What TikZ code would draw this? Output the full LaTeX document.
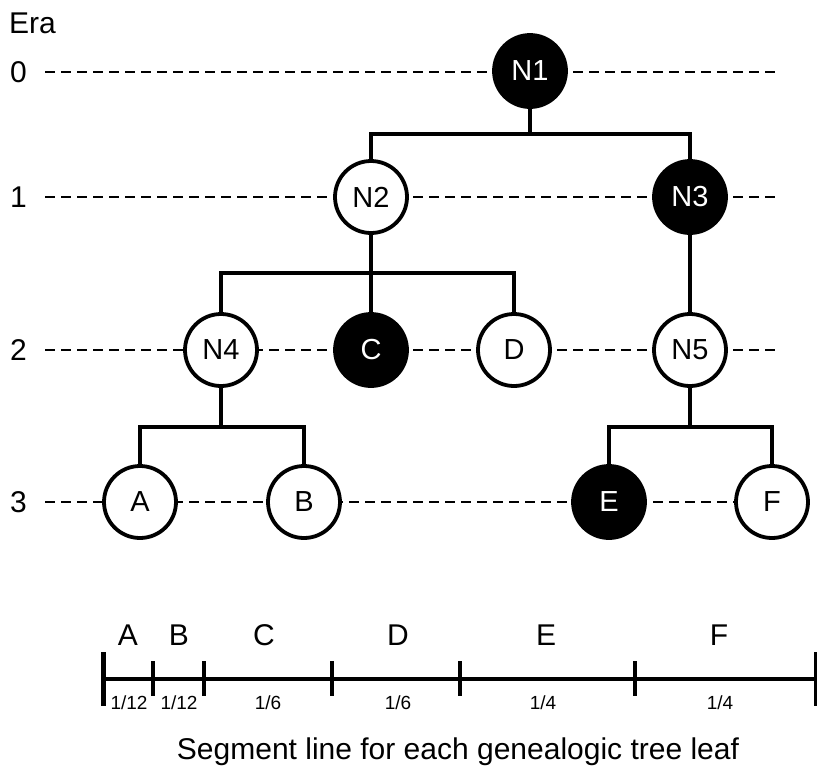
\documentclass[tikz,border=0pt]{standalone}
\usepackage{fontspec}
\setmainfont{Liberation Sans}
\begin{document}
\begin{tikzpicture}[x=1pt,y=-1pt,
  tnode/.style={circle,draw=black,line width=3.8pt,minimum size=72pt,inner sep=0pt,fill=white,font=\fontsize{29}{33}\selectfont},
  bnode/.style={tnode,fill=black,text=white},
  edge/.style={line width=3.8pt},
  eraline/.style={dashed,dash pattern=on 10pt off 6pt,line width=1.3pt},
  eralabel/.style={font=\fontsize{30}{34}\selectfont,anchor=west,inner sep=0pt},
  seg/.style={line width=3.4pt},
  tick/.style={line width=3.8pt},
  seglabel/.style={font=\fontsize{30}{34}\selectfont,inner sep=0pt},
  fraclabel/.style={font=\fontsize{19}{22}\selectfont,inner sep=0pt}]
\useasboundingbox (0,0) rectangle (817,772);
% era labels
\node[eralabel] (era) at (9,23) {Era};
\node[eralabel] (e0) at (10,72) {0};
\node[eralabel] (e1) at (10,197) {1};
\node[eralabel] (e2) at (10,350) {2};
\node[eralabel] (e3) at (10,502) {3};
% dashed era lines
\foreach \y/\n in {72/0,197/1,350/2,502/3}{
  \coordinate (l\n) at (45,\y);
  \coordinate (r\n) at (775,\y);
  \draw[eraline] (l\n) -- (r\n);
}
% nodes
\node[bnode] (N1) at (530,71) {N1};
\node[tnode] (N2) at (371,197) {N2};
\node[bnode] (N3) at (690,197) {N3};
\node[tnode] (N4) at (221,350) {N4};
\node[bnode] (C) at (371,350) {C};
\node[tnode] (D) at (514,350) {D};
\node[tnode] (N5) at (690,350) {N5};
\node[tnode] (A) at (140,502) {A};
\node[tnode] (B) at (304,502) {B};
\node[bnode] (E) at (609,502) {E};
\node[tnode] (F) at (772,502) {F};
% junctions
\coordinate (j1) at (530,134);
\coordinate (j2) at (371,273);
\coordinate (j4) at (221,427);
\coordinate (j5) at (690,427);
\draw[edge] (N1.south) -- (j1) -| (N2.north);
\draw[edge] (j1) -| (N3.north);
\draw[edge] (N2.south) -- (j2) -| (N4.north);
\draw[edge] (j2) -- (C.north);
\draw[edge] (j2) -| (D.north);
\draw[edge] (N3.south) -- (N5.north);
\draw[edge] (N4.south) -- (j4) -| (A.north);
\draw[edge] (j4) -| (B.north);
\draw[edge] (N5.south) -- (j5) -| (E.north);
\draw[edge] (j5) -| (F.north);
% segment line
\coordinate (s0) at (103,679);
\coordinate (s6) at (815,679);
\draw[seg] (s0) -- (s6);
\draw[line width=5pt] (103,652) -- (103,706);
\draw[line width=3pt] (815,652) -- (815,706);
\foreach \x in {153,204,332,460,635}{
  \draw[tick] (\x,661) -- (\x,696);
}
\node[seglabel] (la) at (128,635) {A};
\node[seglabel] (lb) at (179,635) {B};
\node[seglabel] (lc) at (264,635) {C};
\node[seglabel] (ld) at (398,635) {D};
\node[seglabel] (le) at (546,635) {E};
\node[seglabel] (lf) at (719,635) {F};
\node[fraclabel] (fa) at (129,703) {1/12};
\node[fraclabel] (fb) at (179,703) {1/12};
\node[fraclabel] (fc) at (268,703) {1/6};
\node[fraclabel] (fd) at (398,703) {1/6};
\node[fraclabel] (fe) at (543,703) {1/4};
\node[fraclabel] (ff) at (720,703) {1/4};
\node[font=\fontsize{30}{34}\selectfont,inner sep=0pt] (cap) at (458,752) {Segment line for each genealogic tree leaf};
\end{tikzpicture}
\end{document}
